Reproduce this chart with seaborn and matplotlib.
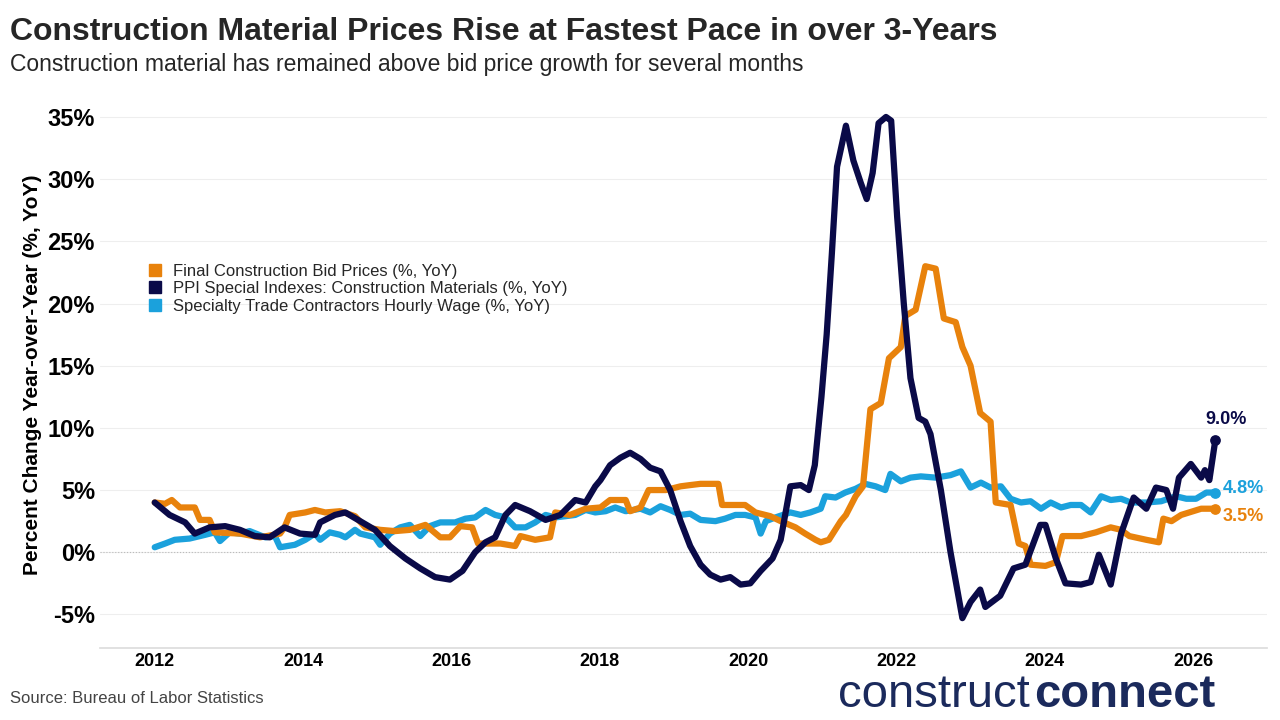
import matplotlib
matplotlib.use("Agg")
import matplotlib.pyplot as plt
import seaborn as sns
import numpy as np
import pandas as pd
from matplotlib.lines import Line2D

sns.set_theme(style="white")
plt.rcParams['font.family'] = ['Liberation Sans', 'DejaVu Sans']

# Values as (year, %YoY) pairs
bid_points = [(2012.00,4.0),(2012.14,3.9),(2012.23,4.2),(2012.34,3.6),(2012.54,3.6),(2012.61,2.6),(2012.74,2.6),(2012.81,1.6),
 (2013.15,1.5),(2013.42,1.2),(2013.69,1.5),(2013.75,2.0),(2013.82,3.0),(2014.03,3.2),(2014.16,3.4),(2014.30,3.2),
 (2014.50,3.3),(2014.70,2.9),(2014.84,2.0),(2015.04,1.8),(2015.24,1.7),(2015.44,1.8),(2015.65,2.2),(2015.85,1.2),
 (2015.98,1.2),(2016.12,2.1),(2016.28,2.0),(2016.36,0.7),(2016.66,0.7),(2016.86,0.5),(2016.93,1.3),(2017.13,1.0),
 (2017.33,1.2),(2017.40,3.2),(2017.60,3.0),(2017.81,3.5),(2018.01,3.6),(2018.14,4.2),(2018.35,4.2),(2018.41,3.3),
 (2018.55,3.6),(2018.66,5.0),(2018.89,5.0),(2019.09,5.3),(2019.22,5.4),(2019.36,5.5),(2019.60,5.5),(2019.65,3.8),
 (2019.96,3.8),(2020.10,3.2),(2020.30,2.9),(2020.44,2.5),(2020.64,2.0),(2020.77,1.5),(2020.91,1.0),(2020.98,0.8),
 (2021.09,1.0),(2021.25,2.5),(2021.32,3.0),(2021.45,4.5),(2021.55,5.3),(2021.65,11.5),(2021.79,12.0),(2021.90,15.6),
 (2022.06,16.5),(2022.12,19.0),(2022.26,19.5),(2022.39,23.0),(2022.53,22.8),(2022.64,18.8),(2022.80,18.5),(2022.89,16.5),
 (2023.00,15.0),(2023.13,11.2),(2023.27,10.5),(2023.34,4.0),(2023.54,3.8),(2023.65,0.7),(2023.74,0.5),(2023.81,-1.0),
 (2024.01,-1.1),(2024.15,-0.8),(2024.24,1.3),(2024.49,1.3),(2024.69,1.6),(2024.89,2.0),(2025.03,1.8),(2025.14,1.3),
 (2025.37,1.0),(2025.54,0.8),(2025.60,2.7),(2025.71,2.5),(2025.84,3.0),(2026.11,3.5),(2026.30,3.5)]

ppi_points = [(2012.00,4.0),(2012.20,3.0),(2012.41,2.4),(2012.54,1.5),(2012.74,2.0),(2012.95,2.1),(2013.15,1.8),(2013.35,1.3),
 (2013.55,1.2),(2013.75,2.0),(2013.96,1.5),(2014.16,1.4),(2014.23,2.4),(2014.43,3.0),(2014.57,3.2),(2014.77,2.5),
 (2014.97,1.8),(2015.17,0.5),(2015.38,-0.5),(2015.58,-1.3),(2015.78,-2.0),(2015.98,-2.2),(2016.15,-1.5),(2016.32,0.0),
 (2016.46,0.8),(2016.59,1.2),(2016.73,3.0),(2016.86,3.8),(2017.06,3.3),(2017.27,2.6),(2017.47,3.0),(2017.67,4.2),
 (2017.81,4.0),(2017.94,5.3),(2018.01,5.8),(2018.14,7.0),(2018.28,7.6),(2018.41,8.0),(2018.55,7.5),(2018.68,6.8),
 (2018.82,6.5),(2018.95,5.0),(2019.09,2.5),(2019.22,0.5),(2019.36,-1.0),(2019.49,-1.8),(2019.63,-2.2),(2019.76,-2.0),
 (2019.90,-2.6),(2020.03,-2.5),(2020.17,-1.5),(2020.33,-0.5),(2020.44,1.0),(2020.57,5.3),(2020.71,5.4),(2020.82,5.0),
 (2020.90,7.0),(2020.99,12.5),(2021.06,17.5),(2021.13,24.0),(2021.20,31.0),(2021.32,34.3),(2021.42,31.5),(2021.52,29.7),
 (2021.60,28.4),(2021.68,30.5),(2021.76,34.5),(2021.86,35.0),(2021.93,34.7),(2022.01,27.0),(2022.10,20.0),(2022.19,14.0),
 (2022.30,10.8),(2022.39,10.5),(2022.46,9.5),(2022.60,5.0),(2022.73,0.0),(2022.89,-5.3),(2023.00,-4.0),(2023.13,-3.0),
 (2023.20,-4.4),(2023.40,-3.5),(2023.58,-1.3),(2023.74,-1.0),(2023.94,2.2),(2024.01,2.2),(2024.15,-0.5),(2024.28,-2.5),
 (2024.49,-2.6),(2024.62,-2.4),(2024.73,-0.2),(2024.89,-2.6),(2025.03,1.5),(2025.20,4.4),(2025.37,3.5),(2025.50,5.2),
 (2025.64,5.0),(2025.73,3.5),(2025.81,6.0),(2025.97,7.1),(2026.11,6.0),(2026.16,6.6),(2026.22,5.8),(2026.30,9.0)]

wage_points = [(2012.00,0.4),(2012.14,0.7),(2012.27,1.0),(2012.47,1.1),(2012.68,1.4),(2012.81,1.6),(2012.88,0.9),(2013.01,1.6),
 (2013.15,1.5),(2013.28,1.7),(2013.49,1.2),(2013.62,1.3),(2013.69,0.4),(2013.89,0.6),(2014.03,1.0),(2014.16,1.5),
 (2014.23,1.0),(2014.36,1.6),(2014.50,1.4),(2014.57,1.2),(2014.70,1.8),(2014.77,1.5),(2014.97,1.2),(2015.04,0.6),
 (2015.17,1.5),(2015.31,2.0),(2015.44,2.2),(2015.58,1.3),(2015.71,2.1),(2015.85,2.4),(2016.05,2.4),(2016.19,2.7),
 (2016.32,2.8),(2016.46,3.4),(2016.59,3.0),(2016.73,2.8),(2016.86,2.0),(2017.00,2.0),(2017.13,2.4),(2017.27,3.0),
 (2017.40,2.8),(2017.54,2.9),(2017.67,3.0),(2017.81,3.4),(2017.94,3.2),(2018.08,3.3),(2018.21,3.6),(2018.35,3.3),
 (2018.55,3.5),(2018.68,3.2),(2018.82,3.7),(2018.95,3.4),(2019.09,3.0),(2019.22,3.1),(2019.36,2.6),(2019.56,2.5),
 (2019.69,2.7),(2019.83,3.0),(2019.96,3.0),(2020.10,2.8),(2020.17,1.5),(2020.24,2.5),(2020.37,2.8),(2020.57,3.2),
 (2020.71,3.0),(2020.84,3.2),(2020.98,3.5),(2021.04,4.5),(2021.18,4.4),(2021.31,4.8),(2021.45,5.1),(2021.58,5.5),
 (2021.72,5.3),(2021.85,5.0),(2021.92,6.3),(2022.06,5.7),(2022.19,6.0),(2022.33,6.1),(2022.53,6.0),(2022.73,6.2),
 (2022.87,6.5),(2023.00,5.2),(2023.14,5.6),(2023.27,5.2),(2023.41,5.3),(2023.54,4.3),(2023.68,4.0),(2023.81,4.1),
 (2023.95,3.5),(2024.08,4.0),(2024.22,3.6),(2024.35,3.8),(2024.49,3.8),(2024.62,3.2),(2024.76,4.5),(2024.89,4.2),
 (2025.03,4.3),(2025.16,4.0),(2025.37,4.0),(2025.57,4.1),(2025.77,4.5),(2025.91,4.3),(2026.04,4.3),(2026.18,4.8),(2026.30,4.8)]

names = ["Final Construction Bid Prices (%, YoY)",
         "PPI Special Indexes: Construction Materials (%, YoY)",
         "Specialty Trade Contractors Hourly Wage (%, YoY)"]
colors = ["#E8820C", "#0A0A48", "#1BA1DC"]
end_labels = ["3.5%", "9.0%", "4.8%"]

frames = []
for n, pts in zip(names, [bid_points, ppi_points, wage_points]):
    frames.append(pd.DataFrame({"year": [p[0] for p in pts], "value": [p[1] for p in pts], "series": n}))
df = pd.concat(frames, ignore_index=True)

fig = plt.figure(figsize=(12.8, 7.2), dpi=100)
ax = fig.add_axes([0.078, 0.1, 0.912, 0.76])
for n, c, z in zip(names, colors, [3, 4, 2]):
    sns.lineplot(data=df[df.series == n], x="year", y="value", color=c, linewidth=4.5,
                 ax=ax, legend=False, sort=False, zorder=z)

for n, c, lab, dy in zip(names, colors, end_labels, [-0.6, 1.0, 0.3]):
    sub = df[df.series == n]
    x0, y0 = sub.year.iloc[-1], sub.value.iloc[-1]
    ax.scatter([x0], [y0], color=c, s=45, zorder=5)
    if lab == "9.0%":
        ax.text(x0 + 0.15, y0 + 1.0, lab, color=c, fontsize=13, fontweight="bold", ha="center", va="bottom")
    else:
        ax.text(x0 + 0.1, y0 + dy, lab, color=c, fontsize=13, fontweight="bold", ha="left", va="center")

ax.set_xlim(2011.26, 2027.0)
ax.set_ylim(-7.7, 36.3)
ax.set_yticks(np.arange(-5, 36, 5))
ax.set_yticklabels([f"{v}%" for v in range(-5, 36, 5)], fontsize=17, fontweight="bold", color="black")
ax.set_xticks(range(2012, 2027, 2))
ax.set_xticklabels([str(v) for v in range(2012, 2027, 2)], fontsize=13, fontweight="bold", color="black")
ax.yaxis.grid(True, color="#EEEEEE", linewidth=0.8)
ax.axhline(0, color="#BBBBBB", linestyle=":", linewidth=0.8)
for s in ["top", "right", "left"]:
    ax.spines[s].set_visible(False)
ax.spines["bottom"].set_color("#DDDDDD")
ax.set_xlabel("")
ax.set_ylabel("Percent Change Year-over-Year (%, YoY)", fontsize=15, fontweight="bold", color="black")
ax.tick_params(axis="both", length=0)

handles = [Line2D([], [], marker="s", color=c, linestyle="", markersize=9) for c in colors]
ax.legend(handles, names, loc="upper left", bbox_to_anchor=(0.02, 0.73), frameon=False,
          fontsize=12, handletextpad=0.1, labelspacing=0.15)

fig.text(0.008, 0.955, "Construction Material Prices Rise at Fastest Pace in over 3-Years",
         fontsize=23, fontweight="bold", color="#262626", va="center")
fig.text(0.008, 0.91, "Construction material has remained above bid price growth for several months",
         fontsize=16.5, color="#262626", va="center")
fig.text(0.008, 0.03, "Source: Bureau of Labor Statistics", fontsize=12, color="#444444", va="center")
fig.text(0.655, 0.035, "construct", fontsize=34, color="#1B2A5C", va="center")
fig.text(0.808, 0.035, "connect", fontsize=34, color="#1B2A5C", fontweight="bold", va="center")

fig.savefig("out.png", dpi=100)
